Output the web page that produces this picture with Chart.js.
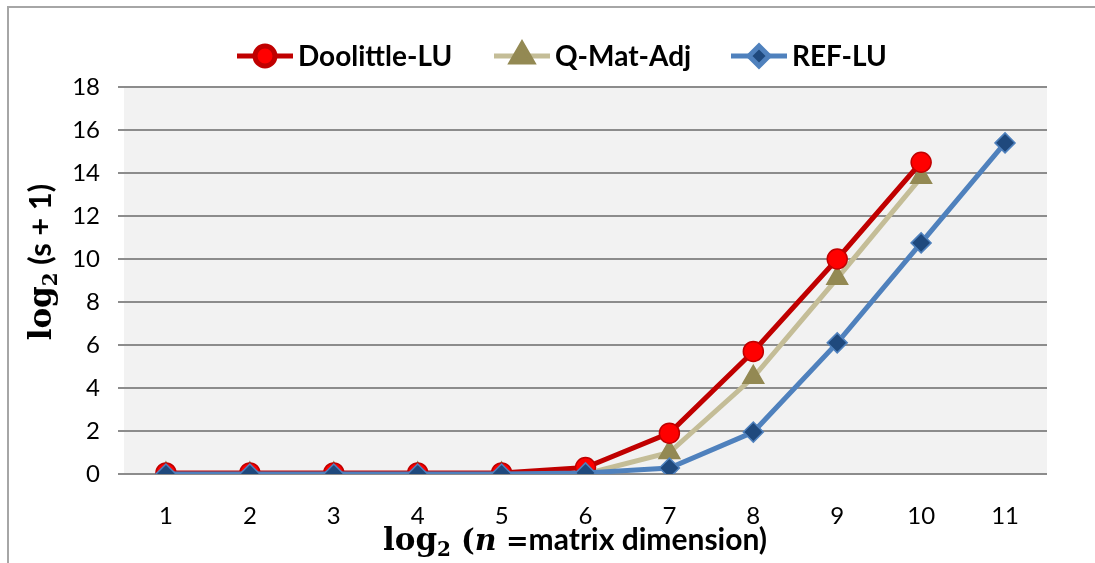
<!DOCTYPE html>
<html>
<head>
<meta charset="utf-8">
<script src="https://cdn.jsdelivr.net/npm/chart.js@4.4.1/dist/chart.umd.min.js"></script>
<style>
html, body { margin: 0; padding: 0; background: #fff; }
#wrap { width: 1095px; height: 563px; position: relative; }
</style>
</head>
<body>
<div id="wrap"><canvas id="grafico"></canvas></div>
<script>
// dados
const categorias = ['1', '2', '3', '4', '5', '6', '7', '8', '9', '10', '11'];
const doolittleLU = [0.05, 0.05, 0.05, 0.05, 0.05, 0.3, 1.9, 5.7, 10.0, 14.5, null];
const qMatAdj = [0, 0, 0, 0, 0, 0, 1.0, 4.5, 9.1, 13.8, null];
const refLU = [0, 0, 0, 0, 0, 0.05, 0.28, 1.95, 6.1, 10.75, 15.4];
const ticksY = [0, 2, 4, 6, 8, 10, 12, 14, 16, 18];

const series = [
    { nome: 'Doolittle-LU', dados: doolittleLU, linha: '#c00000', ponto: '#ff0000', bordaPonto: '#c00000', estilo: 'circle', raio: 10, ordem: 1 },
    { nome: 'Q-Mat-Adj', dados: qMatAdj, linha: '#c4bd97', ponto: '#938953', bordaPonto: '#938953', estilo: 'triangle', raio: 12, ordem: 2 },
    { nome: 'REF-LU', dados: refLU, linha: '#4f81bd', ponto: '#1f497d', bordaPonto: '#4f81bd', estilo: 'rectRot', raio: 10, ordem: 0 }
];

const SERIF = '"DejaVu Serif", "Liberation Serif", serif';
const SANS = 'Lato, "Open Sans", sans-serif';

function textoRico(ctx, partes, x, y) {
    let total = 0;
    partes.forEach(p => { ctx.font = p.f; total += ctx.measureText(p.t).width; });
    let cx = x - total / 2;
    partes.forEach(p => {
        ctx.font = p.f;
        ctx.fillText(p.t, cx, y + (p.dy || 0));
        cx += ctx.measureText(p.t).width;
    });
}

const extrasPlugin = {
    id: 'extras',
    beforeDraw(chart) {
        const { ctx, chartArea: a } = chart;
        ctx.save();
        ctx.fillStyle = '#ffffff';
        ctx.fillRect(0, 0, chart.width, chart.height);
        ctx.fillStyle = '#f2f2f2';
        ctx.fillRect(a.left, a.top, a.right - a.left, a.bottom - a.top);
        ctx.strokeStyle = '#a6a6a6';
        ctx.lineWidth = 2;
        ctx.beginPath();
        ctx.moveTo(8, chart.height);
        ctx.lineTo(8, 7);
        ctx.lineTo(chart.width, 7);
        ctx.stroke();
        ctx.restore();
    },
    afterDraw(chart) {
        const ctx = chart.ctx;
        ctx.save();

        // legenda
        const posLegenda = [237, 494, 731];
        const yLeg = 56;
        series.forEach((s, i) => {
            const x0 = posLegenda[i];
            ctx.strokeStyle = s.linha;
            ctx.lineWidth = 5;
            ctx.beginPath();
            ctx.moveTo(x0, yLeg);
            ctx.lineTo(x0 + 56, yLeg);
            ctx.stroke();
            ctx.fillStyle = s.ponto;
            ctx.strokeStyle = s.bordaPonto;
            Chart.helpers.drawPoint(ctx, { pointStyle: s.estilo, radius: s.raio, rotation: 0, borderWidth: 1.5 }, x0 + 28, yLeg);
            ctx.fillStyle = '#000';
            ctx.font = 'bold 28px ' + SANS;
            ctx.textBaseline = 'middle';
            ctx.textAlign = 'left';
            ctx.fillText(s.nome, x0 + 61, yLeg + 1);
        });

        // títulos dos eixos
        ctx.fillStyle = '#000';
        ctx.textBaseline = 'alphabetic';
        ctx.textAlign = 'left';
        textoRico(ctx, [
            { t: 'log', f: 'bold 31px ' + SERIF },
            { t: '2', f: 'bold 20px ' + SERIF, dy: 6 },
            { t: ' (', f: 'bold 29px ' + SERIF },
            { t: 'n', f: 'italic bold 30px ' + SERIF },
            { t: ' =', f: 'bold 27px ' + SERIF },
            { t: 'matrix dimension)', f: 'bold 30px ' + SANS }
        ], 575, 550);

        ctx.translate(51, 262);
        ctx.rotate(-Math.PI / 2);
        textoRico(ctx, [
            { t: 'log', f: 'bold 31px ' + SERIF },
            { t: '2', f: 'bold 20px ' + SERIF, dy: 6 },
            { t: ' (s + 1)', f: 'bold 31px ' + SANS }
        ], 0, 0);
        ctx.restore();
    }
};

const ctx = document.getElementById('grafico').getContext('2d');

const grafico = new Chart(ctx, {
    type: 'line',
    data: {
        labels: categorias,
        datasets: series.map(s => ({
            label: s.nome,
            data: s.dados,
            borderColor: s.linha,
            borderWidth: 5,
            backgroundColor: s.ponto,
            pointBackgroundColor: s.ponto,
            pointBorderColor: s.bordaPonto,
            pointBorderWidth: 1.5,
            pointStyle: s.estilo,
            pointRadius: s.raio,
            pointHoverRadius: s.raio,
            tension: 0,
            spanGaps: false,
            order: s.ordem
        }))
    },
    options: {
        responsive: true,
        maintainAspectRatio: false,
        animation: false,
        layout: { padding: { top: 87, right: 48, bottom: 0, left: 0 } },
        scales: {
            x: {
                offset: true,
                grid: { display: false },
                border: { display: false },
                ticks: { color: '#000', font: { family: SANS, size: 24 }, padding: 20, maxRotation: 0 },
                afterFit: scale => { scale.height = 89; }
            },
            y: {
                min: 0,
                max: 18,
                afterBuildTicks: scale => { scale.ticks = ticksY.map(v => ({ value: v })); },
                grid: { color: '#8c8c8c', lineWidth: 2, tickLength: 6, drawTicks: true },
                border: { display: false },
                ticks: { color: '#000', font: { family: SANS, size: 24 }, padding: 18 },
                afterFit: scale => { scale.width = 124; }
            }
        },
        plugins: {
            legend: { display: false },
            tooltip: { enabled: false }
        }
    },
    plugins: [extrasPlugin]
});
</script>
</body>
</html>
